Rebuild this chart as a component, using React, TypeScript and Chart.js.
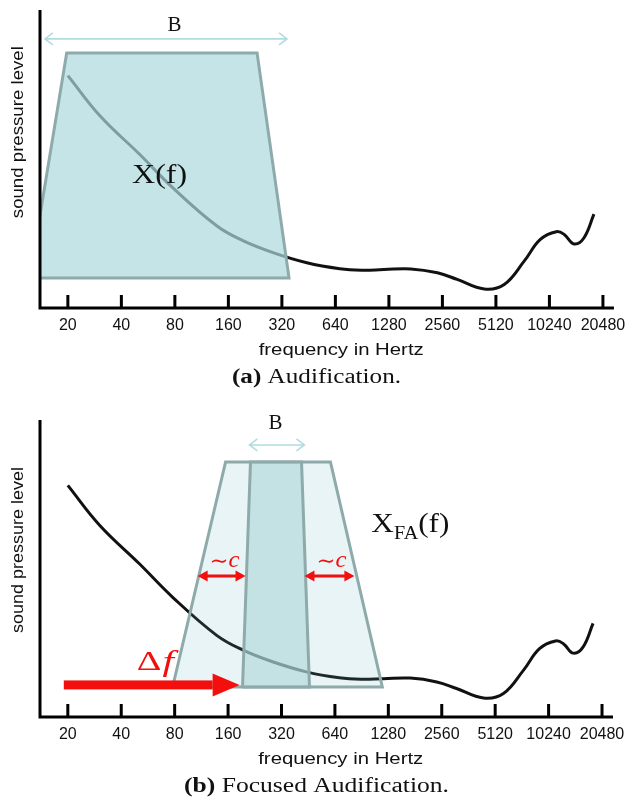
import React, { useEffect, useRef } from 'react';
import { Chart, registerables } from 'chart.js';
Chart.register(...registerables);

// ---- data ----
const FREQ_TICKS = [20, 40, 80, 160, 320, 640, 1280, 2560, 5120, 10240, 20480];
const SPECTRUM_FREQ = [20, 30.3, 50.8, 78, 138, 193, 285, 442, 678, 900, 1200, 1700, 2400, 3100, 4400, 5700, 7400, 9100, 11200, 12400, 14100, 16000, 18230];
const SPECTRUM_LEVEL = [78, 64.5, 51.5, 40.3, 27.5, 22.6, 18.6, 15.2, 13.2, 12.7, 12.9, 13.1, 11.8, 9.6, 6.4, 7.9, 15.8, 23, 25.6, 24.7, 21.5, 23.5, 31.5];

// audification window (a)
const WINDOW_A_FREQ = [12.2, 19.7, 232, 351, 12.2];
const WINDOW_A_LEVEL = [10.1, 85.6, 85.6, 10.1, 10.1];
// focused audification windows (b)
const FA_OUTER_FREQ = [77.9, 154.9, 604, 1184, 77.9];
const FA_OUTER_LEVEL = [10.1, 85.9, 85.9, 10.1, 10.1];
const FA_INNER_FREQ = [193, 214, 415, 460, 193];
const FA_INNER_LEVEL = [10.1, 85.9, 85.9, 10.1, 10.1];

// annotation anchors (frequency, level)
const B_ARROW_A = { from: 14.86, to: 342, level: 90.3, labelFreq: 79.6, labelLevel: 95 };
const XF_LABEL_A = { freq: 65.6, level: 44.3 };
const B_ARROW_B = { from: 211, to: 431, level: 91.6, labelFreq: 296, labelLevel: 99 };
const XFA_LABEL_B = { freq: 1027, level: 65.3 };
const C_LEFT = { from: 107.8, to: 200.7, level: 47.5, labelFreq: 152.9, labelLevel: 52.5 };
const C_RIGHT = { from: 431, to: 824, level: 47.5, labelFreq: 612, labelLevel: 52.5 };
const DELTA_F = { from: 18.98, to: 185.8, level: 10.8, labelFreq: 61.7, labelLevel: 18.2 };

const X_MIN = 13.94;
const X_MAX = 23616;
const X_TITLE_FREQ = 690;

// ---- styles ----
const SANS = '"Liberation Sans", Arial, sans-serif';
const SERIF = '"Liberation Serif", "Times New Roman", serif';
const RED = '#f40f0f';
const EDGE = '#8eaaab';
const LIGHT_ARROW = '#b3dce0';

function fitText(ctx: CanvasRenderingContext2D, text: string, cx: number, cy: number, font: string, width: number, color = '#111') {
  ctx.save();
  ctx.font = font;
  const w = ctx.measureText(text).width;
  const s = width / w;
  ctx.translate(cx, cy);
  ctx.scale(s, 1);
  ctx.textAlign = 'center';
  ctx.textBaseline = 'middle';
  ctx.fillStyle = color;
  ctx.fillText(text, 0, 0);
  ctx.restore();
}

function drawCaption(ctx: CanvasRenderingContext2D, bold: string, rest: string, cx: number, cy: number, width: number) {
  const fb = `bold 20px ${SERIF}`;
  const fr = `20px ${SERIF}`;
  ctx.save();
  ctx.font = fb;
  const wb = ctx.measureText(bold).width;
  ctx.font = fr;
  const wr = ctx.measureText(rest).width;
  const s = width / (wb + wr);
  ctx.translate(cx - width / 2, cy);
  ctx.scale(s, 1);
  ctx.textBaseline = 'middle';
  ctx.textAlign = 'left';
  ctx.fillStyle = '#111';
  ctx.font = fb;
  ctx.fillText(bold, 0, 0);
  ctx.font = fr;
  ctx.fillText(rest, wb, 0);
  ctx.restore();
}

function drawAxes(chart: any, yTitleLevel: number, yTitleLen: number) {
  const { ctx, chartArea } = chart;
  const { left, right, top, bottom } = chartArea;
  const xs = chart.scales.x;
  const ys = chart.scales.y;
  ctx.save();
  ctx.strokeStyle = '#000';
  ctx.lineWidth = 3;
  ctx.beginPath();
  ctx.moveTo(left, top);
  ctx.lineTo(left, bottom);
  ctx.moveTo(left - 1.5, bottom);
  ctx.lineTo(right, bottom);
  ctx.stroke();
  ctx.beginPath();
  for (const t of FREQ_TICKS) {
    const x = xs.getPixelForValue(t);
    ctx.moveTo(x, bottom - 13);
    ctx.lineTo(x, bottom);
  }
  ctx.stroke();
  ctx.restore();
  // y title
  ctx.save();
  ctx.translate(18, ys.getPixelForValue(yTitleLevel));
  ctx.rotate(-Math.PI / 2);
  fitText(ctx, 'sound pressure level', 0, 0, `16.5px ${SANS}`, yTitleLen);
  ctx.restore();
  // x title
  fitText(ctx, 'frequency in Hertz', xs.getPixelForValue(X_TITLE_FREQ), bottom + 42, `17px ${SANS}`, 165);
}

function drawLightArrow(ctx: CanvasRenderingContext2D, x0: number, x1: number, y: number) {
  ctx.save();
  ctx.strokeStyle = LIGHT_ARROW;
  ctx.lineWidth = 1.6;
  ctx.beginPath();
  ctx.moveTo(x0, y);
  ctx.lineTo(x1, y);
  ctx.moveTo(x0 + 8, y - 6);
  ctx.lineTo(x0, y);
  ctx.lineTo(x0 + 8, y + 6);
  ctx.moveTo(x1 - 8, y - 6);
  ctx.lineTo(x1, y);
  ctx.lineTo(x1 - 8, y + 6);
  ctx.stroke();
  ctx.restore();
}

function drawRedDouble(ctx: CanvasRenderingContext2D, x0: number, x1: number, y: number) {
  ctx.save();
  ctx.strokeStyle = RED;
  ctx.fillStyle = RED;
  ctx.lineWidth = 3;
  ctx.beginPath();
  ctx.moveTo(x0 + 6, y);
  ctx.lineTo(x1 - 6, y);
  ctx.stroke();
  ctx.beginPath();
  ctx.moveTo(x0, y);
  ctx.lineTo(x0 + 10, y - 5.5);
  ctx.lineTo(x0 + 10, y + 5.5);
  ctx.closePath();
  ctx.moveTo(x1, y);
  ctx.lineTo(x1 - 10, y - 5.5);
  ctx.lineTo(x1 - 10, y + 5.5);
  ctx.closePath();
  ctx.fill();
  ctx.restore();
}

function drawTopExtras(chart: any) {
  const { ctx, chartArea } = chart;
  const px = (f: number) => chart.scales.x.getPixelForValue(f);
  const py = (v: number) => chart.scales.y.getPixelForValue(v);
  drawAxes(chart, 59, 172);
  drawLightArrow(ctx, px(B_ARROW_A.from), px(B_ARROW_A.to), py(B_ARROW_A.level));
  fitText(ctx, 'B', px(B_ARROW_A.labelFreq), py(B_ARROW_A.labelLevel), `22px ${SERIF}`, 14);
  fitText(ctx, 'X(f)', px(XF_LABEL_A.freq), py(XF_LABEL_A.level), `28px ${SERIF}`, 55);
  drawCaption(ctx, '(a)', ' Audification.', 316.5, chartArea.bottom + 70, 169);
}

function drawBottomExtras(chart: any) {
  const { ctx, chartArea } = chart;
  const px = (f: number) => chart.scales.x.getPixelForValue(f);
  const py = (v: number) => chart.scales.y.getPixelForValue(v);
  drawAxes(chart, 56.2, 166);
  drawLightArrow(ctx, px(B_ARROW_B.from), px(B_ARROW_B.to), py(B_ARROW_B.level));
  fitText(ctx, 'B', px(B_ARROW_B.labelFreq), py(B_ARROW_B.labelLevel), `22px ${SERIF}`, 14);

  // X_FA(f)
  {
    const x = px(XFA_LABEL_B.freq);
    const y = py(XFA_LABEL_B.level);
    ctx.save();
    ctx.fillStyle = '#111';
    ctx.textBaseline = 'alphabetic';
    ctx.textAlign = 'left';
    const big = `28px ${SERIF}`;
    const small = `18px ${SERIF}`;
    ctx.font = big;
    const wX = ctx.measureText('X').width;
    const wF = ctx.measureText('(f)').width;
    ctx.font = small;
    const wS = ctx.measureText('FA').width;
    const s = 78 / (wX + wS + wF);
    ctx.translate(x, y + 9);
    ctx.scale(s, 1);
    ctx.font = big;
    ctx.fillText('X', 0, 0);
    ctx.font = small;
    ctx.fillText('FA', wX, 7);
    ctx.font = big;
    ctx.fillText('(f)', wX + wS, 0);
    ctx.restore();
  }

  // ~c arrows
  for (const c of [C_LEFT, C_RIGHT]) {
    drawRedDouble(ctx, px(c.from), px(c.to), py(c.level));
    ctx.save();
    const cx = px(c.labelFreq);
    const cy = py(c.labelLevel);
    ctx.fillStyle = RED;
    ctx.textBaseline = 'middle';
    ctx.textAlign = 'left';
    ctx.font = `22px "DejaVu Serif", serif`;
    const wt = ctx.measureText('\u223C').width;
    ctx.font = `italic 24px ${SERIF}`;
    const wc = ctx.measureText('c').width;
    const s = 30 / (wt + wc);
    ctx.translate(cx - 15, cy);
    ctx.scale(s, 1);
    ctx.font = `22px "DejaVu Serif", serif`;
    ctx.fillText('\u223C', 0, 1);
    ctx.font = `italic 24px ${SERIF}`;
    ctx.fillText('c', wt, 0);
    ctx.restore();
  }

  // Δf arrow
  {
    const y = py(DELTA_F.level);
    const x0 = px(DELTA_F.from);
    const xt = px(DELTA_F.to);
    const xb = xt - 27;
    ctx.save();
    ctx.fillStyle = RED;
    ctx.fillRect(x0, y - 4.5, xb - x0, 9);
    ctx.beginPath();
    ctx.moveTo(xb, y - 11.5);
    ctx.lineTo(xt, y);
    ctx.lineTo(xb, y + 11.5);
    ctx.closePath();
    ctx.fill();
    const lx = px(DELTA_F.labelFreq);
    const ly = py(DELTA_F.labelLevel);
    ctx.textBaseline = 'middle';
    ctx.textAlign = 'left';
    ctx.font = `28px ${SERIF}`;
    const wd = ctx.measureText('\u0394').width;
    ctx.font = `italic 30px ${SERIF}`;
    const wf = ctx.measureText('f').width;
    const s = 36 / (wd + wf);
    ctx.translate(lx - 18, ly);
    ctx.scale(s, 1);
    ctx.font = `28px ${SERIF}`;
    ctx.fillText('\u0394', 0, 0);
    ctx.font = `italic 30px ${SERIF}`;
    ctx.fillText('f', wd + 1, 0);
    ctx.restore();
  }

  drawCaption(ctx, '(b)', ' Focused Audification.', 316.5, chartArea.bottom + 70, 265);
}

function pts(xs: number[], ys: number[]) {
  return xs.map((x, i) => ({ x, y: ys[i] }));
}

function curveDataset() {
  return {
    data: pts(SPECTRUM_FREQ, SPECTRUM_LEVEL),
    borderColor: '#111',
    borderWidth: 3,
    tension: 0.4,
    fill: false,
    pointRadius: 0,
  };
}

function polyDataset(xs: number[], ys: number[], bg: string) {
  return {
    data: pts(xs, ys),
    borderColor: EDGE,
    borderWidth: 3,
    backgroundColor: bg,
    fill: 'shape' as any,
    tension: 0,
    pointRadius: 0,
    borderJoinStyle: 'miter' as const,
  };
}

function buildChart(canvas: HTMLCanvasElement, datasets: any[], padTop: number, padRight: number, axisH: number, extras: (c: any) => void, tickPad: number) {
  return new Chart(canvas, {
    type: 'line',
    data: { datasets },
    options: {
      animation: false,
      responsive: false,
      devicePixelRatio: 1,
      layout: { padding: { left: 40, right: padRight, top: padTop, bottom: 0 } },
      plugins: { legend: { display: false }, tooltip: { enabled: false } },
      scales: {
        x: {
          type: 'logarithmic',
          min: X_MIN,
          max: X_MAX,
          afterBuildTicks: (s: any) => {
            s.ticks = FREQ_TICKS.map((v) => ({ value: v }));
          },
          afterFit: (s: any) => {
            s.height = axisH;
          },
          grid: { display: false, drawTicks: false },
          border: { display: false },
          ticks: {
            autoSkip: false,
            maxRotation: 0,
            minRotation: 0,
            padding: tickPad,
            color: '#111',
            font: { family: SANS, size: 16, lineHeight: 1.2 },
            callback: (v: any) => String(v),
          },
        },
        y: { type: 'linear', display: false, min: 0, max: 100 },
      },
    },
    plugins: [{ id: 'extras', afterDatasetsDraw: (c: any) => extras(c) }],
  } as any);
}

export default function App() {
  const topRef = useRef<HTMLCanvasElement>(null);
  const botRef = useRef<HTMLCanvasElement>(null);
  useEffect(() => {
    document.body.style.margin = '0';
    const a = buildChart(
      topRef.current!,
      [polyDataset(WINDOW_A_FREQ, WINDOW_A_LEVEL, 'rgba(171,216,221,0.7)'), curveDataset()],
      10, 17, 92, drawTopExtras, 7.5
    );
    const b = buildChart(
      botRef.current!,
      [
        polyDataset(FA_INNER_FREQ, FA_INNER_LEVEL, 'rgba(177,215,219,0.65)'),
        polyDataset(FA_OUTER_FREQ, FA_OUTER_LEVEL, 'rgba(102,182,188,0.15)'),
        curveDataset(),
      ],
      20, 20, 84, drawBottomExtras, 8
    );
    return () => {
      a.destroy();
      b.destroy();
    };
  }, []);
  return (
    <div style={{ position: 'relative', width: 633, height: 801, background: '#fff' }}>
      <canvas ref={topRef} width={633} height={400} style={{ position: 'absolute', left: 0, top: 0, width: 633, height: 400 }} />
      <canvas ref={botRef} width={633} height={401} style={{ position: 'absolute', left: 0, top: 400, width: 633, height: 401 }} />
    </div>
  );
}
